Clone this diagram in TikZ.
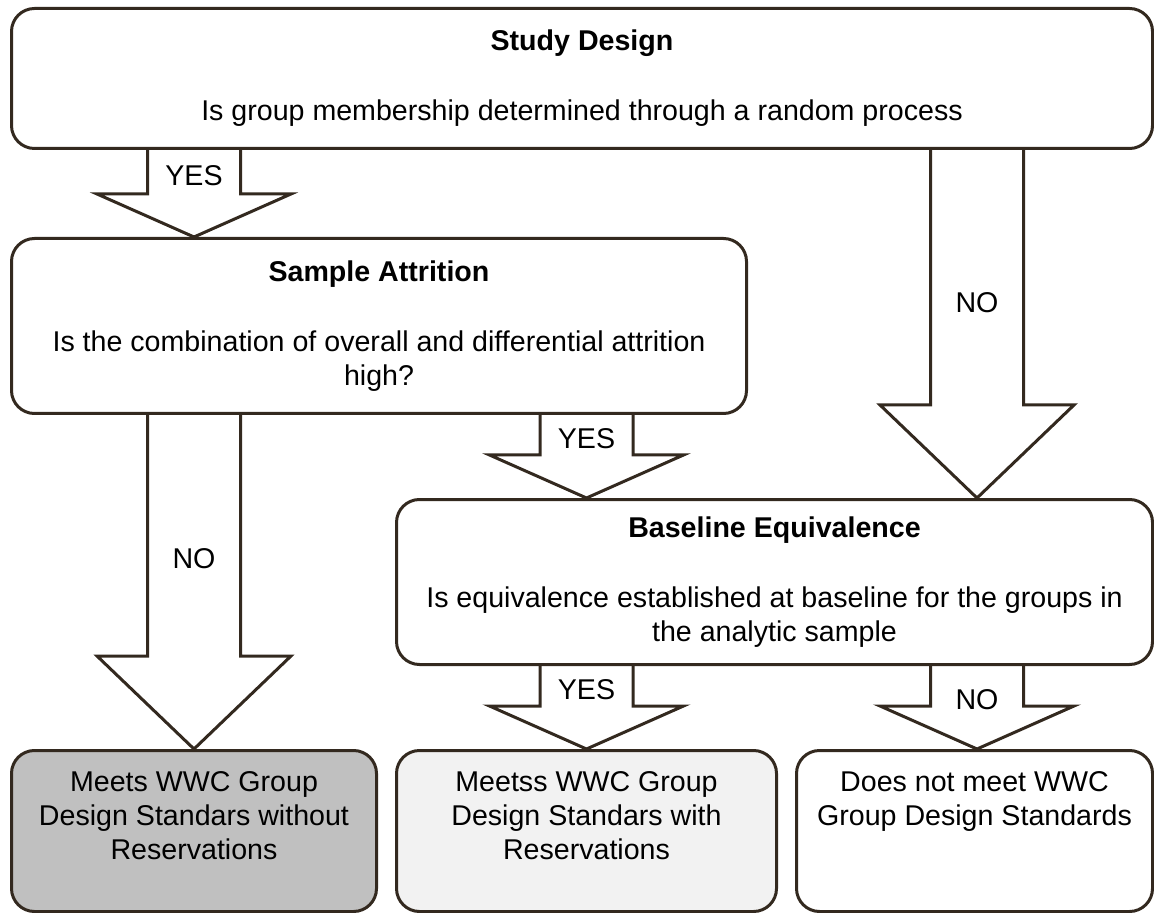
\documentclass[tikz,border=0pt]{standalone}
\usepackage{fontspec}
\setmainfont{Liberation Sans}
\usetikzlibrary{calc}

\definecolor{edge}{RGB}{51,41,31}
\definecolor{darkfill}{RGB}{192,192,192}
\definecolor{lightfill}{RGB}{242,242,242}

\newcommand\boxfont{\fontsize{14.3pt}{17pt}\selectfont}

% block arrow: start, tip, head length, label position, label name, label
\newcommand\blockarrow[6]{%
  \draw[barrow] ($(#1)+(-46.5,0)$) -- ($(#2)+(-46.5,-#3)$) -- ($(#2)+(-97,-#3)$)
    -- (#2) -- ($(#2)+(97,-#3)$) -- ($(#2)+(46.5,-#3)$) -- ($(#1)+(46.5,0)$);
  \node[lbl] (#5) at ($(#1)!#4!(#2)$) {#6};}

\begin{document}
\begin{tikzpicture}[%
    x=0.5pt, y=-0.5pt,          % work in pixels of the original, y going down
    ]
% -------------------------------------------------
% Box and arrow styles
\tikzset{
  box/.style={draw=edge, line width=1.5pt, rounded corners=11.5pt, anchor=north west,
    align=center, inner sep=0pt, font=\boxfont},
  txt/.style={anchor=north, align=center, inner sep=0pt, font=\boxfont},
  barrow/.style={draw=edge, line width=1.5pt, line join=miter},
  lbl/.style={font=\boxfont, inner sep=0pt}
}
\useasboundingbox (0,0) rectangle (1154,913);
% -------------------------------------------------
% Decision boxes
\node [box, minimum width=570.5pt, minimum height=70pt] (design) at (10,7)
  {\textbf{Study Design}\\[18pt]Is group membership determined through a random process};
\node [box, minimum width=367.5pt, minimum height=87.5pt] (attrition) at (10,237)
  {\textbf{Sample Attrition}\\[18pt]Is the combination of overall and differential attrition\\high?};
\node [box, minimum width=378pt, minimum height=82.5pt] (baseline) at (395,498)
  {\textbf{Baseline Equivalence}\\[18pt]Is equivalence established at baseline for the groups in\\the analytic sample};

% Outcome boxes
\node [box, fill=darkfill, minimum width=182.5pt, minimum height=80.5pt] (without) at (10,749) {};
\node [box, fill=lightfill, minimum width=190pt, minimum height=80.5pt] (with) at (395,749) {};
\node [box, minimum width=178pt, minimum height=80.5pt] (notmeet) at (795,749) {};
\node [txt] (without-t) at ([yshift=-11pt]without.north) {Meets WWC Group\\Design Standars without\\Reservations};
\node [txt] (with-t) at ([yshift=-11pt]with.north) {Meetss WWC Group\\Design Standars with\\Reservations};
\node [txt] (notmeet-t) at ([yshift=-11pt]notmeet.north) {Does not meet WWC\\Group Design Standards};

% -------------------------------------------------
% Block arrows
\coordinate (nocol) at (977,0);
\coordinate (a1) at (design.south -| without.north);
\coordinate (a2) at (attrition.north -| without.north);
\coordinate (b1) at (attrition.south -| without.north);
\coordinate (c1) at (attrition.south -| with.north);
\coordinate (c2) at (baseline.north -| with.north);
\coordinate (d1) at (design.south -| nocol);
\coordinate (d2) at (baseline.north -| nocol);
\coordinate (e1) at (baseline.south -| with.north);
\coordinate (f1) at (baseline.south -| nocol);
\coordinate (f2) at (notmeet.north -| nocol);

\blockarrow{a1}{a2}{43}{0.29}{yes1}{YES}         % Study Design -> Sample Attrition
\blockarrow{b1}{without.north}{93}{0.43}{no1}{NO} % Sample Attrition -> without
\blockarrow{c1}{c2}{43}{0.29}{yes2}{YES}         % Sample Attrition -> Baseline
\blockarrow{d1}{d2}{93}{0.44}{no2}{NO}           % Study Design -> Baseline
\blockarrow{e1}{with.north}{43}{0.29}{yes3}{YES} % Baseline -> with
\blockarrow{f1}{f2}{43}{0.40}{no3}{NO}           % Baseline -> does not meet

% -------------------------------------------------
\end{tikzpicture}
\end{document}
